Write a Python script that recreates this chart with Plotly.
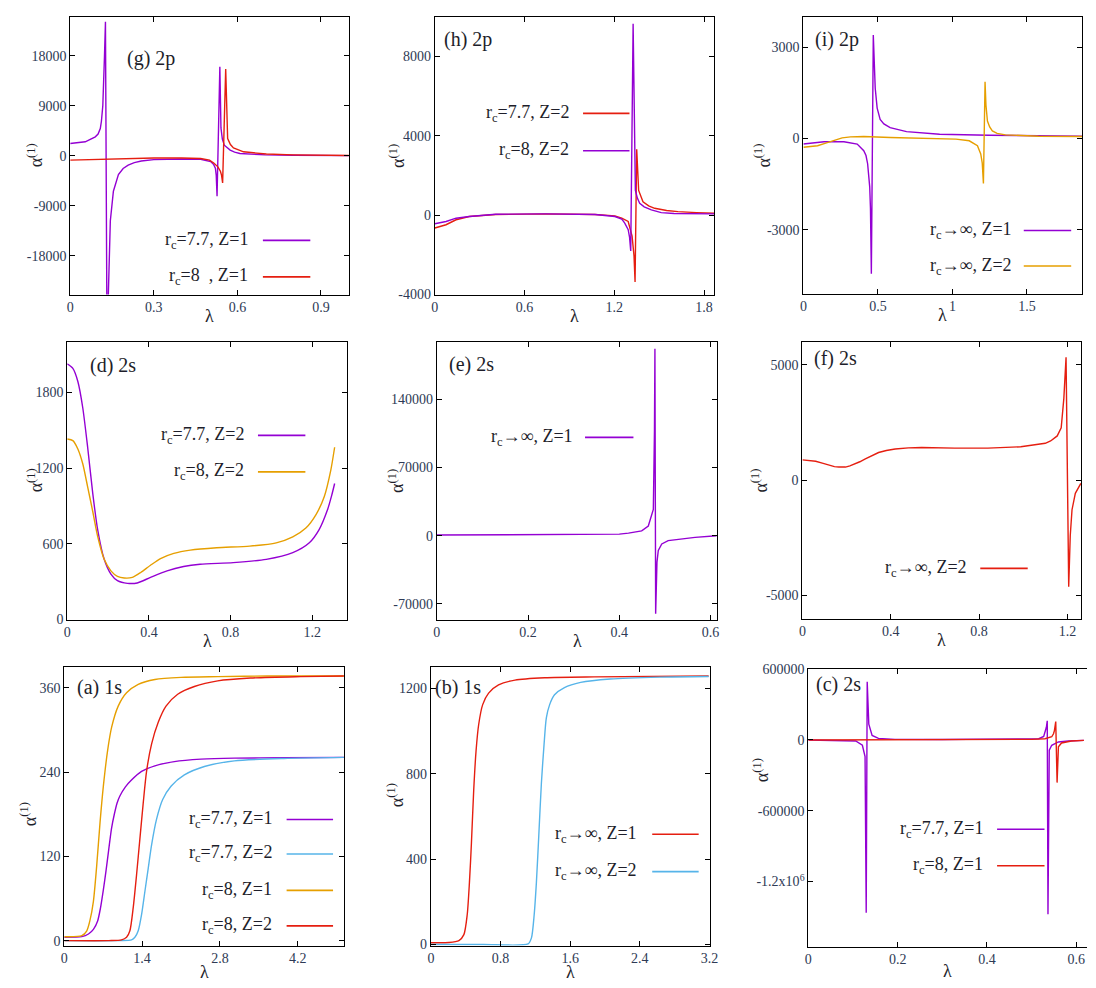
import plotly.graph_objects as go

W, H = 1096, 988

# ---------------- data ----------------
# (g) 2p
g_lam_77 = [0, 0.054, 0.090, 0.100, 0.108, 0.112, 0.117, 0.120, 0.123, 0.1265, 0.132, 0.137, 0.1395, 0.144, 0.155,
            0.165, 0.173, 0.190, 0.208, 0.230, 0.255, 0.30, 0.35, 0.40, 0.468, 0.490, 0.504, 0.515, 0.521, 0.524,
            0.527, 0.537, 0.541, 0.546, 0.553, 0.574, 0.590, 0.609, 0.650, 0.70, 0.80, 0.90, 1.0]
g_alp_77 = [2200, 2500, 3400, 3900, 4900, 6200, 9000, 12500, 17900, 24100, -32000, -24700, -17600, -11700, -6400,
            -4500, -3400, -2300, -1700, -1250, -950, -700, -600, -600, -650, -850, -1060, -1600, -2250, -3500,
            -7300, 16000, 5000, 3000, 1900, 1000, 650, 400, 250, 150, 80, 40, 20]
g_lam_8 = [0, 0.1, 0.2, 0.3, 0.4, 0.468, 0.50, 0.515, 0.530, 0.539, 0.543, 0.547, 0.558, 0.565, 0.575, 0.586, 0.622,
           0.704, 0.80, 0.90, 1.0]
g_alp_8 = [-800, -650, -500, -400, -400, -500, -800, -1300, -2000, -2800, -3500, -4900, 15600, 3100, 2000, 1400, 700,
           300, 150, 80, 40]

# (h) 2p
h_lam_77 = [0, 0.075, 0.142, 0.23, 0.407, 0.739, 1.071, 1.204, 1.25, 1.293, 1.319, 1.332, 1.339, 1.35, 1.363, 1.392,
            1.43, 1.47, 1.55, 1.625, 1.75, 1.868]
h_alp_77 = [-645, -480, -230, -66, 33, 66, 33, -33, -150, -315, -1060, -2050, -3370, 3320, 1250, 680, 470, 350, 240,
            180, 130, 100]
h_lam_8 = [0, 0.075, 0.142, 0.23, 0.407, 0.739, 1.071, 1.204, 1.25, 1.27, 1.293, 1.302, 1.31, 1.326, 1.341, 1.355,
           1.37, 1.40, 1.448, 1.514, 1.60, 1.735, 1.868]
h_alp_8 = [-430, -315, -150, -66, 50, 66, 33, -66, -200, -400, -730, -1100, -1800, 9650, 1250, 850, 600, 420, 265, 130,
           90, 66, 66]

# (i) 2p
i_lam_z1 = [0, 0.139, 0.272, 0.361, 0.405, 0.420, 0.431, 0.445, 0.450, 0.456, 0.469, 0.475, 0.482, 0.495, 0.515,
            0.540, 0.582, 0.692, 0.914, 1.246, 1.87]
i_alp_z1 = [-183, -108, -108, -183, -400, -560, -830, -1590, -2300, -4445, 3400, 2300, 1650, 1000, 625, 480, 356, 227,
            140, 108, 75]
i_lam_z2 = [0, 0.095, 0.15, 0.206, 0.26, 0.316, 0.405, 0.582, 0.803, 1.024, 1.113, 1.168, 1.19, 1.200, 1.208, 1.219,
            1.225, 1.235, 1.250, 1.268, 1.30, 1.356, 1.577, 1.87]
i_alp_z2 = [-290, -237, -150, -54, 20, 54, 65, 32, 11, -22, -76, -237, -507, -800, -1478, 1867, 1100, 572, 380, 248,
            170, 119, 75, 65]

# (d) 2s
d_lam_77 = [0, 0.0275, 0.052, 0.076, 0.1, 0.125, 0.149, 0.181, 0.214, 0.246, 0.295, 0.343, 0.408, 0.489, 0.57, 0.651,
            0.813, 0.975, 1.105, 1.186, 1.234, 1.275, 1.295, 1.31]
d_alp_77 = [2025, 1990, 1886, 1678, 1365, 1000, 712, 477, 360, 308, 287, 290, 334, 386, 420, 438, 451, 477, 530, 608,
            712, 869, 980, 1078]
d_lam_8 = [0, 0.0275, 0.052, 0.076, 0.1, 0.125, 0.149, 0.181, 0.214, 0.246, 0.279, 0.319, 0.36, 0.408, 0.457, 0.522,
           0.603, 0.732, 0.894, 1.024, 1.105, 1.169, 1.218, 1.259, 1.291, 1.31]
d_alp_8 = [1430, 1417, 1351, 1234, 1051, 856, 660, 477, 386, 342, 329, 334, 373, 430, 483, 524, 550, 569, 582, 608,
           655, 725, 830, 973, 1182, 1365]

# (e) 2s
e_lam = [0, 0.1, 0.2, 0.3, 0.4, 0.42, 0.449, 0.4635, 0.471, 0.4745, 0.477, 0.478, 0.4796, 0.4825, 0.4854, 0.493,
         0.507, 0.536, 0.566, 0.613]
e_alp = [700, 800, 900, 1100, 1700, 2700, 5000, 10000, 20000, 27000, 108000, 192000, -80000, -27000, -15000, -8400,
         -5000, -3400, -1700, 0]

# (f) 2s
f_lam = [0, 0.03, 0.06, 0.09, 0.12, 0.145, 0.165, 0.18, 0.195, 0.215, 0.24, 0.26, 0.285, 0.315, 0.345, 0.38, 0.42,
         0.48, 0.54, 0.69, 0.84, 0.989, 1.064, 1.10, 1.124, 1.154, 1.172, 1.184, 1.194, 1.206, 1.213, 1.221, 1.236,
         1.261]
f_alp = [880, 860, 820, 740, 640, 590, 570, 565, 570, 620, 710, 800, 920, 1070, 1200, 1290, 1350, 1400, 1420, 1390,
         1390, 1450, 1530, 1600, 1700, 1920, 2270, 3550, 5330, -4620, -2400, -1280, -570, -140]

# (a) 1s
a_lam_77z1 = [0, 0.316, 0.435, 0.524, 0.6, 0.65, 0.7, 0.75, 0.8, 0.85, 0.9, 0.95, 1.0, 1.1, 1.2, 1.39, 1.63, 1.98,
              2.46, 3.06, 3.95, 5.03]
a_alp_77z1 = [4.7, 5.6, 9.4, 16, 28, 46, 71, 99, 130, 160, 180, 196, 206, 219, 228, 241, 249, 255, 258.5, 260, 260.4,
              261]
a_lam_77z2 = [0, 1.0, 1.21, 1.27, 1.33, 1.39, 1.45, 1.51, 1.57, 1.66, 1.77, 1.92, 2.16, 2.52, 3.06, 3.95, 5.03]
a_alp_77z2 = [0, 0, 1, 4.7, 14, 37, 70, 103, 136, 173, 201, 220, 236, 248, 256, 259.5, 261]
a_lam_8z1 = [0, 0.316, 0.405, 0.46, 0.524, 0.584, 0.643, 0.703, 0.78, 0.852, 0.97, 1.12, 1.33, 1.63, 2.1, 2.76, 3.65,
             5.03]
a_alp_8z1 = [5.6, 7, 14, 28, 56, 107.5, 168, 220, 271, 304, 334, 353, 365, 372, 375, 376, 377, 377]
a_lam_8z2 = [0, 0.8, 1.03, 1.12, 1.18, 1.24, 1.30, 1.36, 1.42, 1.48, 1.57, 1.69, 1.83, 2.04, 2.34, 2.76, 3.35, 4.25,
             5.03]
a_alp_8z2 = [0, 0, 1, 4.7, 14, 47, 93.5, 145, 196, 241, 280, 311, 334, 351, 362, 370, 374, 376, 377]

# (b) 1s
b_lam_z1 = [0, 0.208, 0.322, 0.379, 0.417, 0.443, 0.466, 0.492, 0.519, 0.549, 0.595, 0.663, 0.777, 0.966, 1.307,
            1.875, 3.19]
b_alp_z1 = [8, 9, 18, 46, 138, 292, 477, 723, 907, 1030, 1123, 1177, 1215, 1238, 1249, 1253, 1257]
b_lam_z2 = [0, 0.6, 1.117, 1.155, 1.186, 1.212, 1.239, 1.269, 1.30, 1.326, 1.364, 1.42, 1.534, 1.72, 2.06, 2.63, 3.19]
b_alp_z2 = [0, 0, 3, 31, 138, 292, 508, 754, 938, 1061, 1123, 1169, 1203, 1227, 1243, 1252, 1255]

# (c) 2s
c_lam_77 = [0, 0.05, 0.106, 0.121, 0.127, 0.1296, 0.1318, 0.1354, 0.1428, 0.157, 0.194, 0.30, 0.472, 0.516, 0.527,
            0.533, 0.535, 0.5366, 0.5395, 0.545, 0.56, 0.582, 0.617]
c_alp_77 = [-3000, -5500, -11000, -47000, -143000, -1464000, 490000, 132000, 36000, 11000, 2750, 2000, 2750, 8000,
            27500, 105000, 160000, -1478000, -88000, -47000, -19000, -11000, -5500]
c_lam_8 = [0, 0.1, 0.2, 0.3, 0.4, 0.5, 0.53, 0.545, 0.549, 0.551, 0.554, 0.557, 0.56, 0.567, 0.589, 0.617]
c_alp_8 = [-2000, -2000, 0, 0, 1000, 3000, 8000, 25000, 50000, 77000, 154000, -363000, -60000, -27500, -11000, -5500]

# tick values / labels
g_xticks = [0, 0.3, 0.6, 0.9]
g_yticks = [-18000, -9000, 0, 9000, 18000]
h_xticks = [0, 0.6, 1.2, 1.8]
h_yticks = [-4000, 0, 4000, 8000]
i_xticks = [0, 0.5, 1, 1.5]
i_yticks = [-3000, 0, 3000]
d_xticks = [0, 0.4, 0.8, 1.2]
d_yticks = [0, 600, 1200, 1800]
e_xticks = [0, 0.2, 0.4, 0.6]
e_yticks = [-70000, 0, 70000, 140000]
f_xticks = [0, 0.4, 0.8, 1.2]
f_yticks = [-5000, 0, 5000]
a_xticks = [0, 1.4, 2.8, 4.2]
a_yticks = [0, 120, 240, 360]
b_xticks = [0, 0.8, 1.6, 2.4, 3.2]
b_yticks = [0, 400, 800, 1200]
c_xticks = [0, 0.2, 0.4, 0.6]
c_yticks = [-1200000, -600000, 0, 600000]
c_yticklabels = ["-1.2x10<sup>6</sup>", "-600000", "0", "600000"]

# ---------------- styling ----------------
PURPLE = "#9400d3"
BLUE = "#56b4e9"
ORANGE = "#e69f00"
RED = "#e51e10"
FONT = "Liberation Serif, Times New Roman, DejaVu Serif, serif"
TICKC = "#2e3a55"
TXTC = "#1e1e2a"

RC77 = "r<sub>c</sub>=7.7, Z="
RC8 = "r<sub>c</sub>=8, Z="
RCI = "r<sub>c</sub>→∞, Z="

panels = [
    dict(box=(67, 349, 10, 292), xr=[0, 1.0], yr=[-25000, 25000], xt=g_xticks, yt=g_yticks, label="(g) 2p",
         lab=(122, 52), ytit=(32, 151), xtoff=22,
         series=[(g_lam_77, g_alp_77, PURPLE), (g_lam_8, g_alp_8, RED)],
         legend=dict(tx=249, l0=262, l1=310, rows=[(237, RC77 + "1", PURPLE), (274, "r<sub>c</sub>=8  , Z=1", RED)])),
    dict(box=(436, 719, 10, 292), xr=[0, 1.87], yr=[-4000, 10000], xt=h_xticks, yt=h_yticks, label="(h) 2p",
         lab=(443, 33), ytit=(398, 151), xtoff=22,
         series=[(h_lam_77, h_alp_77, RED), (h_lam_8, h_alp_8, PURPLE)],
         legend=dict(tx=574, l0=586, l1=633, rows=[(108, RC77 + "2", RED), (146, RC8 + "2", PURPLE)])),
    dict(box=(809, 1091, 10, 291), xr=[0, 1.87], yr=[-5100, 4000], xt=i_xticks, yt=i_yticks, label="(i) 2p",
         lab=(819, 33), ytit=(768, 151), xtoff=22,
         series=[(i_lam_z1, i_alp_z1, PURPLE), (i_lam_z2, i_alp_z2, ORANGE)],
         legend=dict(tx=1022, l0=1032, l1=1080, rows=[(227, RCI + "1", PURPLE), (263, RCI + "2", ORANGE)])),
    dict(box=(64, 347, 340, 622), xr=[0, 1.37], yr=[0, 2200], xt=d_xticks, yt=d_yticks, label="(d) 2s",
         lab=(85, 364), ytit=(32, 481), smooth=True, xtoff=22,
         series=[(d_lam_77, d_alp_77, PURPLE), (d_lam_8, d_alp_8, ORANGE)],
         legend=dict(tx=245, l0=257, l1=305, rows=[(435, RC77 + "2", PURPLE), (472, RC8 + "2", ORANGE)])),
    dict(box=(438, 722, 340, 622), xr=[0, 0.615], yr=[-86000, 199000], xt=e_xticks, yt=e_yticks, label="(e) 2s",
         lab=(448, 363), ytit=(397, 481), xtoff=22,
         series=[(e_lam, e_alp, PURPLE)],
         legend=dict(tx=578, l0=588, l1=637, rows=[(437, RCI + "1", PURPLE)])),
    dict(box=(808, 1090, 340, 621), xr=[0, 1.262], yr=[-6000, 6000], xt=f_xticks, yt=f_yticks, label="(f) 2s",
         lab=(818, 357), ytit=(765, 481), xtoff=22,
         series=[(f_lam, f_alp, RED)],
         legend=dict(tx=977, l0=988, l1=1036, rows=[(570, RCI + "2", RED)])),
    dict(box=(61, 344, 670, 953), xr=[0, 5.03], yr=[-7, 390], xt=a_xticks, yt=a_yticks, label="(a) 1s",
         lab=(72, 691), ytit=(25, 820), smooth=True, xtoff=27,
         series=[(a_lam_77z1, a_alp_77z1, PURPLE), (a_lam_77z2, a_alp_77z2, BLUE),
                 (a_lam_8z1, a_alp_8z1, ORANGE), (a_lam_8z2, a_alp_8z2, RED)],
         legend=dict(tx=273, l0=286, l1=333, rows=[(825, RC77 + "1", PURPLE), (860, RC77 + "2", BLUE),
                                                   (897, RC8 + "1", ORANGE), (933, RC8 + "2", RED)])),
    dict(box=(432, 714, 670, 953), xr=[0, 3.2], yr=[-5, 1300], xt=b_xticks, yt=b_yticks, label="(b) 1s",
         lab=(434, 691), ytit=(397, 800), smooth=True, xtoff=27,
         series=[(b_lam_z1, b_alp_z1, RED), (b_lam_z2, b_alp_z2, BLUE)],
         legend=dict(tx=643, l0=656, l1=703, rows=[(840, RCI + "1", RED), (878, RCI + "2", BLUE)])),
    dict(box=(814, 1096, 672, 954), xr=[0, 0.624], yr=[-1750000, 600000], xt=c_xticks, yt=c_yticks,
         ytext=c_yticklabels, label="(c) 2s", lab=(820, 688), ytit=(766, 775), noright=True, xtoff=25,
         series=[(c_lam_77, c_alp_77, PURPLE), (c_lam_8, c_alp_8, RED)],
         legend=dict(tx=993, l0=1005, l1=1053, rows=[(835, RC77 + "1", PURPLE), (872, RC8 + "1", RED)])),
]


def px(x):
    return x / W


def py(y):
    return 1 - y / H


def fmt(v):
    return "%g" % v


fig = go.Figure()
annotations = []
shapes = []
layout = dict(width=W, height=H, margin=dict(l=0, r=0, t=0, b=0), paper_bgcolor="white", plot_bgcolor="white",
              showlegend=False, font=dict(family=FONT, color=TXTC))

for n, p in enumerate(panels, start=1):
    x0, x1, y0, y1 = p["box"]
    xa = "x" if n == 1 else f"x{n}"
    ya = "y" if n == 1 else f"y{n}"
    xk = "xaxis" if n == 1 else f"xaxis{n}"
    yk = "yaxis" if n == 1 else f"yaxis{n}"
    common = dict(showline=True, linecolor="black", linewidth=1, ticks="inside", ticklen=5, tickcolor="black",
                  tickwidth=1, showgrid=False, zeroline=False, tickfont=dict(family=FONT, size=14, color=TICKC),
                  fixedrange=True)
    layout[xk] = dict(domain=[px(x0), px(x1)], range=p["xr"], anchor=ya, tickvals=p["xt"],
                      ticktext=[fmt(v) for v in p["xt"]], mirror="ticks", **common)
    layout[yk] = dict(domain=[py(y1), py(y0)], range=p["yr"], anchor=xa, tickvals=p["yt"],
                      ticktext=p.get("ytext", [fmt(v) for v in p["yt"]]),
                      mirror=False if p.get("noright") else "ticks", **common)
    for xs, ys, col in p["series"]:
        ln = dict(color=col, width=1.4)
        if p.get("smooth"):
            ln.update(shape="spline", smoothing=0.7)
        fig.add_trace(go.Scatter(x=xs, y=ys, mode="lines", line=ln, xaxis=xa, yaxis=ya, hoverinfo="skip"))
    # panel label
    lx, ly = p["lab"]
    annotations.append(dict(x=px(lx), y=py(ly), xref="paper", yref="paper", text=p["label"], showarrow=False,
                            xanchor="left", yanchor="middle", font=dict(family=FONT, size=20, color=TXTC)))
    # axis titles
    annotations.append(dict(x=px((x0 + x1) / 2), y=py(y1 + p["xtoff"]), xref="paper", yref="paper", text="λ",
                            showarrow=False, xanchor="center", yanchor="middle",
                            font=dict(family=FONT, size=18, color=TXTC)))
    tx, ty = p["ytit"]
    annotations.append(dict(x=px(tx), y=py(ty), xref="paper", yref="paper",
                            text="α<sup>(1)</sup>", textangle=-90, showarrow=False, xanchor="center",
                            yanchor="middle", font=dict(family=FONT, size=18, color=TXTC)))
    # key
    lg = p["legend"]
    for ry, txt, col in lg["rows"]:
        annotations.append(dict(x=px(lg["tx"]), y=py(ry), xref="paper", yref="paper", text=txt, showarrow=False,
                                xanchor="right", yanchor="middle", font=dict(family=FONT, size=18, color=TXTC)))
        shapes.append(dict(type="line", xref="paper", yref="paper", x0=px(lg["l0"]), x1=px(lg["l1"]),
                           y0=py(ry), y1=py(ry), line=dict(color=col, width=1.6)))

layout["annotations"] = annotations
layout["shapes"] = shapes
fig.update_layout(**layout)
fig.write_html("out.html")
